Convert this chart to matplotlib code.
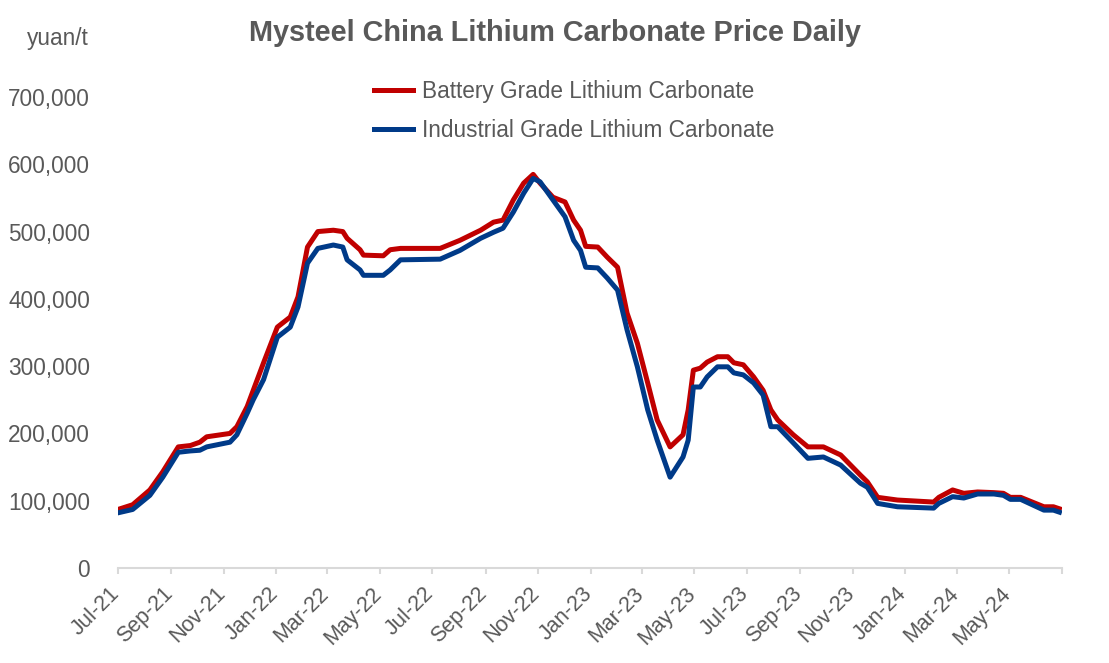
import pandas as pd
import numpy as np
import matplotlib.pyplot as plt
import matplotlib.transforms as mtransforms
from matplotlib.ticker import FuncFormatter

plt.rcParams['font.family'] = ['Liberation Sans', 'DejaVu Sans']

# Daily price (yuan/t)
dates = ['2021-07-01', '2021-07-18', '2021-08-07', '2021-08-22', '2021-09-09', '2021-09-23',
         '2021-10-04', '2021-10-12', '2021-11-08', '2021-11-16', '2021-11-28', '2021-12-05',
         '2021-12-17', '2022-01-02', '2022-01-17', '2022-01-26', '2022-02-06', '2022-02-18',
         '2022-03-08', '2022-03-19', '2022-03-24', '2022-04-08', '2022-04-12', '2022-05-05',
         '2022-05-13', '2022-05-25', '2022-07-10', '2022-08-02', '2022-08-26', '2022-09-10',
         '2022-09-21', '2022-10-03', '2022-10-15', '2022-10-26', '2022-11-03', '2022-11-18',
         '2022-12-02', '2022-12-12', '2022-12-20', '2022-12-26', '2023-01-09', '2023-01-20',
         '2023-02-01', '2023-02-12', '2023-02-24', '2023-03-08', '2023-03-19', '2023-04-03',
         '2023-04-18', '2023-04-24', '2023-04-30', '2023-05-08', '2023-05-16', '2023-05-28',
         '2023-06-09', '2023-06-16', '2023-06-27', '2023-07-09', '2023-07-20', '2023-07-29',
         '2023-08-06', '2023-08-24', '2023-09-10', '2023-09-28', '2023-10-18', '2023-11-10',
         '2023-11-18', '2023-11-30', '2023-12-23', '2024-02-03', '2024-02-09', '2024-02-25',
         '2024-03-09', '2024-03-25', '2024-04-13', '2024-04-24', '2024-05-02', '2024-05-14',
         '2024-06-10', '2024-06-21', '2024-06-28']

battery = [87, 94, 116, 143, 180, 182, 187, 195, 200, 210, 240, 264,
           305, 358, 373, 403, 477, 500, 502, 500, 490, 473, 465, 464,
           473, 475, 475, 487, 502, 514, 517, 547, 572, 585, 572, 551,
           544, 517, 502, 478, 477, 462, 447, 379, 334, 275, 220, 180,
           198, 235, 294, 297, 306, 314, 314, 305, 302, 284, 264, 235,
           220, 198, 180, 180, 168, 138, 128, 105, 101, 98, 105, 116,
           111, 113, 112, 111, 105, 105, 91, 91, 88]

industrial = [82, 87, 108, 135, 172, 174, 175, 180, 187, 198, 230, 250,
              280, 343, 358, 388, 453, 475, 480, 477, 458, 443, 435, 435,
              443, 458, 459, 472, 490, 499, 505, 529, 557, 579, 574, 547,
              522, 487, 472, 447, 446, 431, 413, 354, 299, 235, 190, 135,
              165, 190, 269, 269, 284, 299, 299, 290, 287, 275, 257, 210,
              210, 186, 163, 165, 153, 126, 120, 96, 91, 89, 96, 106,
              104, 110, 110, 108, 102, 102, 86, 86, 83]

df = pd.DataFrame({'date': pd.to_datetime(dates),
                   'battery': np.array(battery) * 1000,
                   'industrial': np.array(industrial) * 1000})

grey = '#595959'

fig = plt.figure(figsize=(11.09, 6.63), dpi=100)
ax = fig.add_axes([118 / 1109, 1 - 568 / 663, (1062 - 118) / 1109, (568 - 97) / 663])

ax.plot(df['date'], df['battery'], color='#C00000', lw=3.6, label='Battery Grade Lithium Carbonate')
ax.plot(df['date'], df['industrial'], color='#003A88', lw=3.6, label='Industrial Grade Lithium Carbonate')

ax.set_ylim(0, 700000)
ax.set_yticks(np.arange(0, 700001, 100000))
ax.yaxis.set_major_formatter(FuncFormatter(lambda v, p: f'{int(v):,}'))
ax.tick_params(axis='y', length=0, pad=20, labelsize=16.3, labelcolor=grey)

ax.set_xlim(pd.Timestamp('2021-07-01'), pd.Timestamp('2024-07-01'))
ticks = pd.date_range('2021-07-01', '2024-07-01', freq='2MS')
ax.set_xticks(ticks)
ax.set_xticklabels([t.strftime('%b-%y') if t < pd.Timestamp('2024-07-01') else '' for t in ticks])
ax.tick_params(axis='x', length=4.3, width=1.5, color='#d9d9d9', labelsize=15.5,
               labelcolor=grey, pad=8)
shift = mtransforms.ScaledTranslation(-9 / 100, 2 / 100, fig.dpi_scale_trans)
for lab in ax.get_xticklabels():
    lab.set_rotation(45)
    lab.set_ha('right')
    lab.set_va('top')
    lab.set_rotation_mode('anchor')
    lab.set_transform(lab.get_transform() + shift)

for s in ['top', 'right', 'left']:
    ax.spines[s].set_visible(False)
ax.spines['bottom'].set_color('#d9d9d9')
ax.spines['bottom'].set_linewidth(1.5)

fig.text(0.5, 1 - 33 / 663, 'Mysteel China Lithium Carbonate Price Daily', ha='center', va='center',
         fontsize=20.8, fontweight='bold', color=grey)
fig.text(89 / 1109, 1 - 38 / 663, 'yuan/t', ha='right', va='center', fontsize=16.3, color=grey)

leg = ax.legend(loc='upper left', bbox_to_anchor=(354 / 1109, 1 - 60 / 663),
                bbox_transform=fig.transFigure, frameon=False, fontsize=16.3,
                handlelength=1.7, handletextpad=0.4, labelspacing=0.67)
for t in leg.get_texts():
    t.set_color(grey)

fig.savefig('out.png', dpi=100)
